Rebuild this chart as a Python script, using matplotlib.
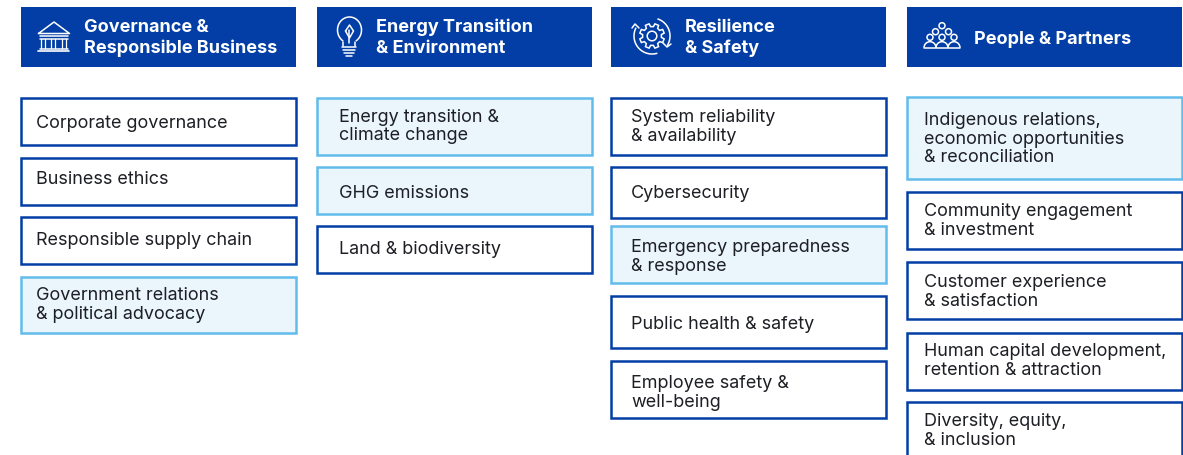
import numpy as np
from matplotlib import pyplot as plt
from matplotlib.patches import Rectangle, Circle, Arc, Polygon

plt.rcParams['font.family'] = ['Inter', 'DejaVu Sans']

BLUE = '#023ea5'
SKY = '#62bceb'
PALE = '#eaf6fc'
INK = '#1d1f24'

headers = ['Governance &\nResponsible Business', 'Energy Transition\n& Environment',
           'Resilience\n& Safety', 'People & Partners']
topics = [
    ['Corporate governance', 'Business ethics', 'Responsible supply chain',
     'Government relations\n& political advocacy'],
    ['Energy transition &\nclimate change', 'GHG emissions', 'Land & biodiversity'],
    ['System reliability\n& availability', 'Cybersecurity',
     'Emergency preparedness\n& response', 'Public health & safety',
     'Employee safety &\nwell-being'],
    ['Indigenous relations,\neconomic opportunities\n& reconciliation',
     'Community engagement\n& investment', 'Customer experience\n& satisfaction',
     'Human capital development,\nretention & attraction',
     'Diversity, equity,\n& inclusion'],
]
highlighted = [
    [False, False, False, True],
    [True, True, False],
    [False, False, True, False, False],
    [True, False, False, False, False],
]

# layout, in pixels of the 1183x455 picture
col_left = [21, 317, 611, 907]
col_width = 275
header_text_x = [84, 376, 685, 974]
header_text_y = [38, 38, 38, 39]
box_text_x = [36, 339, 631, 924]
box_spans = [
    [(98, 145), (158, 205), (217, 264), (277, 333)],
    [(98, 155), (167, 214), (226, 273)],
    [(98, 155), (167, 218), (226, 283), (296, 348), (361, 418)],
    [(97, 179), (192, 249), (262, 319), (333, 390), (402, 462)],
]
box_text_y = [
    [124, 180, 240.5, 305],
    [126.5, 194, 250],
    [127, 194, 257, 324.5, 393],
    [139, 221, 292, 361, 431],
]


def line(ax, xs, ys, lw=1.1):
    ax.plot(xs, ys, color='white', lw=lw, solid_capstyle='round')


def ring(ax, x, y, r, lw=1.1):
    ax.add_patch(Circle((x, y), r, fc='none', ec='white', lw=lw))


def bank_icon(ax, x, y):
    line(ax, [x - 15.5, x, x + 15.5, x - 15.5], [y - 4.5, y - 16, y - 4.5, y - 4.5])
    line(ax, [x - 14, x + 14], [y - 2, y - 2])
    line(ax, [x - 14, x + 14], [y + 1, y + 1])
    for dx in (-12.5, -9, -3, 1, 8, 12):
        line(ax, [x + dx, x + dx], [y + 1, y + 10], 0.9)
    line(ax, [x - 14, x + 14], [y + 10.5, y + 10.5])
    line(ax, [x - 15.5, x + 15.5], [y + 13, y + 13], 1.2)


def bulb_icon(ax, x, y):
    t = np.radians(np.linspace(-55, 235, 60))
    ax.plot(x + 12 * np.cos(t), y - 8 - 13 * np.sin(t), color='white', lw=1.1)
    line(ax, [x - 6, x - 6], [y + 4, y + 8])
    line(ax, [x + 6, x + 6], [y + 4, y + 8])
    for dy, half in ((9, 7), (12, 6), (15, 5), (18, 3)):
        line(ax, [x - half, x + half], [y + dy, y + dy])
    line(ax, [x - 4, x, x + 4, x, x - 4], [y - 7, y - 13, y - 7, y, y - 7])
    line(ax, [x, x], [y - 8, y + 5])


def gear_icon(ax, x, y):
    ring(ax, x, y, 4.8)
    pts = []
    for a in np.arange(0, 360, 45):
        for off, r in ((-14, 9.5), (-9, 12.5), (9, 12.5), (14, 9.5)):
            ang = np.radians(a + 22.5 + off)
            pts.append((x + r * np.cos(ang), y + r * np.sin(ang)))
    ax.add_patch(Polygon(pts, closed=True, fc='none', ec='white', lw=1.1))
    for t0, t1 in ((155, 285), (70, -30)):
        t = np.radians(np.linspace(t0, t1, 40))
        ax.plot(x + 18 * np.cos(t), y - 18 * np.sin(t), color='white', lw=1.1)
    line(ax, [x - 20, x - 17, x - 13], [y - 8, y - 12, y - 8])
    line(ax, [x + 11, x + 15, x + 19], [y + 7, y + 11, y + 8])


def people_icon(ax, x, y):
    ring(ax, x, y - 12.3, 3)
    for dx in (-6.5, 6.5):
        ring(ax, x + dx, y - 6.3, 3)
    for dx in (-12, 0, 12):
        ring(ax, x + dx, y - 0.7, 3)
        ax.add_patch(Arc((x + dx, y + 9.7), 12, 12, theta1=180, theta2=360,
                         ec='white', lw=1.1))
    line(ax, [x - 18, x + 18], [y + 9.7, y + 9.7])


icons = [bank_icon, bulb_icon, gear_icon, people_icon]
icon_center = [(54, 38), (349.5, 38), (652, 36), (942, 38)]

fig = plt.figure(figsize=(11.83, 4.55), dpi=100)
ax = fig.add_axes([0, 0, 1, 1])
ax.set_xlim(0, 1183)
ax.set_ylim(455, 0)
ax.axis('off')

for i in range(4):
    left = col_left[i]
    ax.add_patch(Rectangle((left, 7), col_width, 60, fc=BLUE, ec='none'))
    ax.text(header_text_x[i], header_text_y[i], headers[i], color='white', fontsize=13,
            fontweight='bold', va='center', ha='left', linespacing=1.28)
    icons[i](ax, *icon_center[i])
    for j, label in enumerate(topics[i]):
        top, bottom = box_spans[i][j]
        hl = highlighted[i][j]
        ax.add_patch(Rectangle((left, top), col_width, bottom - top,
                               fc=PALE if hl else 'white',
                               ec=SKY if hl else BLUE, lw=1.8))
        ax.text(box_text_x[i], box_text_y[i][j], label, color=INK, fontsize=12.95,
                va='center', ha='left', linespacing=1.14)

fig.savefig('out.png', dpi=100)
